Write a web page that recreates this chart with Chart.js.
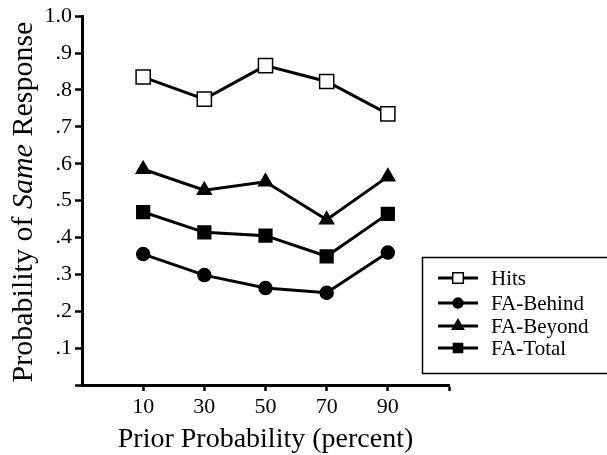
<!DOCTYPE html>
<html>
<head>
<meta charset="utf-8">
<script src="https://cdn.jsdelivr.net/npm/chart.js@4.4.1/dist/chart.umd.min.js"></script>
<style>
  html, body { margin: 0; padding: 0; background: #fff; }
  #wrap { width: 607px; height: 455px; }
</style>
</head>
<body>
<div id="wrap"><canvas id="chart" width="607" height="455"></canvas></div>
<script>
// Data
const priorProb = [10, 30, 50, 70, 90];
const hits = [0.835, 0.775, 0.866, 0.823, 0.735];
const faBehind = [0.355, 0.298, 0.263, 0.250, 0.359];
const faBeyond = [0.585, 0.528, 0.551, 0.448, 0.565];
const faTotal = [0.469, 0.414, 0.405, 0.349, 0.464];
const xTickValues = [10, 30, 50, 70, 90, 110];

const serif = '"Liberation Serif", "Times New Roman", serif';

function toPoints(values) {
    return values.map((v, i) => ({ x: priorProb[i], y: v }));
}

function series(label, values, style, radius, fill) {
    return {
        label: label,
        data: toPoints(values),
        borderColor: '#000',
        borderWidth: 3,
        pointStyle: style,
        pointRadius: radius,
        pointHoverRadius: radius,
        pointBackgroundColor: fill,
        pointBorderColor: '#000',
        pointBorderWidth: 1.5,
        tension: 0,
        fill: false
    };
}

// y title with italic "Same"
const yTitlePlugin = {
    id: 'yTitle',
    afterDraw(chart) {
        const ctx = chart.ctx;
        const parts = [
            { t: 'Probability of ', f: '30px ' + serif },
            { t: 'Same', f: 'italic 30px ' + serif },
            { t: ' Response', f: '30px ' + serif }
        ];
        ctx.save();
        let total = 0;
        parts.forEach(p => { ctx.font = p.f; p.w = ctx.measureText(p.t).width; total += p.w; });
        ctx.translate(32, 202);
        ctx.rotate(-Math.PI / 2);
        ctx.fillStyle = '#000';
        ctx.textBaseline = 'alphabetic';
        ctx.textAlign = 'left';
        let x = -total / 2;
        parts.forEach(p => { ctx.font = p.f; ctx.fillText(p.t, x, 0); x += p.w; });
        ctx.restore();
    }
};

// boxed legend on the right
const boxLegendPlugin = {
    id: 'boxLegend',
    afterDraw(chart) {
        const ctx = chart.ctx;
        ctx.save();
        ctx.strokeStyle = '#000';
        ctx.lineWidth = 1.5;
        ctx.strokeRect(422.5, 257.5, 200, 116);
        const rowY = [278, 303, 326, 348];
        const legendRadius = [7.5, 5, 6.5, 6.5];
        chart.data.datasets.forEach((ds, i) => {
            const y = rowY[i];
            ctx.beginPath();
            ctx.lineWidth = 3;
            ctx.strokeStyle = '#000';
            ctx.moveTo(438, y);
            ctx.lineTo(478, y);
            ctx.stroke();
            ctx.fillStyle = ds.pointBackgroundColor;
            ctx.strokeStyle = '#000';
            ctx.lineWidth = 1.5;
            Chart.helpers.drawPoint(ctx, { pointStyle: ds.pointStyle, radius: legendRadius[i], borderWidth: 1.5, rotation: 0 }, 458, y);
            ctx.fillStyle = '#000';
            ctx.font = '21px ' + serif;
            ctx.textBaseline = 'middle';
            ctx.textAlign = 'left';
            ctx.fillText(ds.label, 491, y + 1);
        });
        ctx.restore();
    }
};

const ctx = document.getElementById('chart').getContext('2d');
const chart = new Chart(ctx, {
    type: 'line',
    data: {
        datasets: [
            series('Hits', hits, 'rect', 10, '#fff'),
            series('FA-Behind', faBehind, 'circle', 6.5, '#000'),
            series('FA-Beyond', faBeyond, 'triangle', 8, '#000'),
            series('FA-Total', faTotal, 'rect', 9, '#000')
        ]
    },
    options: {
        responsive: false,
        animation: false,
        layout: { padding: { top: 15, right: 158, left: 0, bottom: 0 } },
        plugins: {
            legend: { display: false },
            tooltip: { enabled: false }
        },
        scales: {
            x: {
                type: 'linear',
                min: -10,
                max: 110,
                afterBuildTicks(scale) {
                    scale.ticks = xTickValues.map(v => ({ value: v }));
                },
                afterFit(scale) { scale.height = 70; },
                border: { display: true, color: '#000', width: 3 },
                grid: { drawOnChartArea: false, color: '#000', tickLength: 6, tickWidth: 2.5 },
                ticks: {
                    color: '#000',
                    font: { family: serif, size: 22 },
                    padding: 3,
                    maxRotation: 0,
                    callback: v => (v === 110 ? '' : String(v))
                },
                title: {
                    display: true,
                    text: 'Prior Probability (percent)',
                    color: '#000',
                    font: { family: serif, size: 28, lineHeight: 1 },
                    padding: { top: 0, bottom: 1 }
                }
            },
            y: {
                min: 0,
                max: 1,
                afterFit(scale) { scale.width = 82; },
                border: { display: true, color: '#000', width: 3 },
                grid: { drawOnChartArea: false, color: '#000', tickLength: 7, tickWidth: 2.5 },
                ticks: {
                    stepSize: 0.1,
                    color: '#000',
                    font: { family: serif, size: 22 },
                    padding: 3,
                    callback: v => {
                        const n = Math.round(v * 10);
                        if (n === 0) return '';
                        if (n === 10) return '1.0';
                        return '.' + n;
                    }
                }
            }
        }
    },
    plugins: [yTitlePlugin, boxLegendPlugin]
});
</script>
</body>
</html>
